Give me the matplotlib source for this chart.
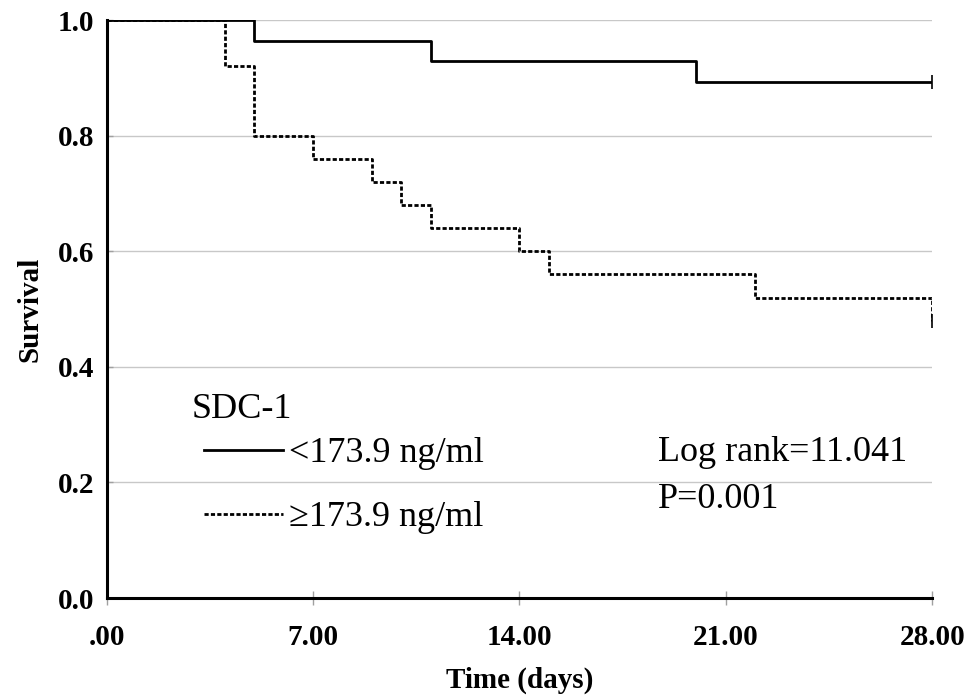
import matplotlib
matplotlib.use('Agg')
import matplotlib.pyplot as plt
import numpy as np

plt.rcParams['font.family'] = ['Liberation Serif', 'DejaVu Serif']

# Kaplan-Meier steps
low_t    = [0, 5, 11, 20, 28]
low_surv = [1.0, 0.964, 0.929, 0.893, 0.893]
high_t    = [0, 4, 5, 7, 9, 10, 11, 14, 15, 22, 28]
high_surv = [1.0, 0.92, 0.80, 0.76, 0.72, 0.68, 0.64, 0.60, 0.56, 0.52, 0.48]
censor_t = [28, 28]
censor_s = [0.893, 0.48]

xticks = [0, 7, 14, 21, 28]
xticklabels = ['.00', '7.00', '14.00', '21.00', '28.00']
yticks = [0.0, 0.2, 0.4, 0.6, 0.8, 1.0]

fig = plt.figure(figsize=(9.69, 6.97), dpi=100, facecolor='white')
ax = fig.add_axes([0.110, 0.142, 0.852, 0.829])

for y in yticks[1:]:
  ax.axhline(y, color='#c8c8c8', lw=1.0, zorder=0)

l1, = ax.step(low_t, low_surv, where='post', color='black', lw=2.0,
              label='<173.9 ng/ml')
l2, = ax.step(high_t, high_surv, where='post', color='black', lw=2.0,
              linestyle=(0, (1.5, 0.8)), label='\u2265173.9 ng/ml')
ax.plot(censor_t, censor_s, linestyle='none', marker='|', color='black',
        markersize=10, markeredgewidth=1.2)

ax.set_xlim(0, 28)
ax.set_ylim(0, 1.0)
ax.set_xticks(xticks)
ax.set_xticklabels(xticklabels, fontsize=21, fontweight='bold')
ax.set_yticks(yticks)
ax.set_yticklabels(['%.1f' % v for v in yticks], fontsize=21, fontweight='bold')
ax.tick_params(axis='x', direction='inout', length=10, color='#a0a0a0', width=1, pad=14)
ax.tick_params(axis='y', direction='in', length=4, color='#a0a0a0', width=1, pad=9)

for s in ['top', 'right']:
  ax.spines[s].set_visible(False)
for s in ['left', 'bottom']:
  ax.spines[s].set_linewidth(2.2)

ax.set_xlabel('Time (days)', fontsize=21, fontweight='bold', labelpad=11)
ax.set_ylabel('Survival', fontsize=21, fontweight='bold', labelpad=10)

ax.text(0.103, 0.327, 'SDC-1', transform=ax.transAxes, fontsize=26,
        va='center', ha='left')
leg = ax.legend(handles=[l1, l2], loc='upper left',
                bbox_to_anchor=(0.096, 0.310), frameon=False, fontsize=26,
                handlelength=2.2, handletextpad=0.15,
                labelspacing=0.85, borderpad=0)

ax.text(18.7, 0.251, 'Log rank=11.041', fontsize=26, va='center', ha='left')
ax.text(18.7, 0.170, 'P=0.001', fontsize=26, va='center', ha='left')

fig.savefig('out.png', dpi=100)
